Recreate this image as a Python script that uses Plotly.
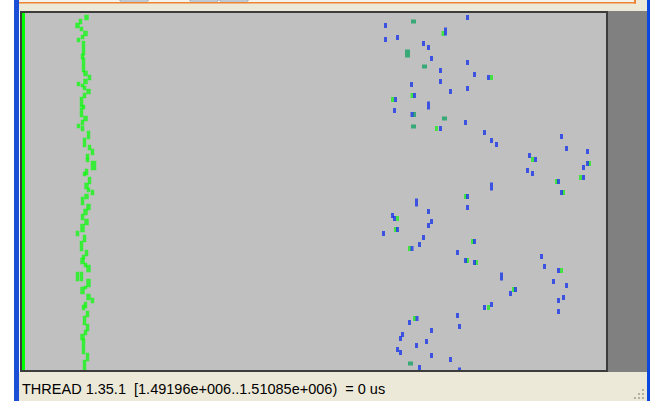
import plotly.graph_objects as go

# ---------------- data (event positions) ----------------
# main green activity trace of the thread (x position, y start, y end, width)
chain_x  = [86, 80, 77, 81, 85, 82, 78, 83, 82, 83, 85, 89, 85, 78, 82, 84, 88, 84, 81, 83,
            81, 85, 82, 78, 82, 88, 84, 89, 92, 87, 87, 93, 86, 84, 89, 86, 88, 92, 86, 82,
            88, 85, 82, 86, 82, 77, 84, 81, 86, 83, 82, 85, 88, 77, 81, 88, 85, 82, 88, 92,
            85, 83, 87, 84, 87, 85, 82, 83, 87, 84]
chain_y0 = [15, 19, 23, 27, 31, 35, 38, 41, 54, 58, 71, 75, 79, 82, 84, 86, 89, 93, 97, 105,
            108, 116, 120, 124, 126, 131, 138, 145, 149, 154, 158, 161, 169, 172, 177, 183, 188, 190, 194, 197,
            204, 209, 214, 219, 224, 231, 235, 241, 250, 255, 258, 263, 265, 272, 272, 279, 286, 287, 294, 298,
            302, 305, 311, 316, 324, 330, 334, 339, 353, 360]
chain_y1 = [19, 23, 27, 30, 35, 38, 41, 54, 58, 71, 75, 79, 83, 85, 86, 89, 93, 97, 106, 108,
            116, 120, 124, 127, 130, 138, 146, 149, 154, 158, 161, 169, 174, 175, 183, 188, 191, 194, 198, 204,
            209, 214, 219, 224, 231, 235, 241, 250, 255, 258, 263, 266, 271, 280, 280, 286, 288, 293, 299, 302,
            307, 309, 316, 324, 330, 334, 339, 353, 360, 370]
chain_w  = [4, 3, 4, 3, 4, 3, 3, 3, 3, 3, 4, 3, 4, 3, 3, 3, 4, 3, 3, 3,
            3, 4, 3, 3, 3, 3, 3, 3, 3, 3, 3, 5, 3, 3, 3, 4, 3, 3, 4, 3,
            4, 4, 3, 4, 4, 3, 3, 3, 3, 3, 4, 3, 4, 3, 3, 4, 3, 4, 4, 3,
            3, 3, 3, 3, 3, 3, 4, 3, 3, 3]

# blue events (x, y, height)
blue_x = [467, 385, 445, 385, 397, 423, 428, 431, 467, 440, 474, 488, 411, 440, 467, 450, 395, 414,
          428, 394, 411.5, 465, 440, 484, 491, 496, 491, 467, 416, 467, 428, 392, 394, 431, 428, 397,
          383, 423, 474, 419, 411.5, 457, 465, 474, 501, 510, 484, 491, 416.5, 457, 409, 459, 431,
          402, 400, 426, 416, 397, 400, 431, 450, 419, 459,
          561, 566, 529, 535, 587, 587, 583, 527, 532, 558, 583, 561, 541, 544, 558, 553, 566, 515,
          563, 558, 558]
blue_y = [17, 25, 31, 39, 37, 43, 47, 58, 62, 70, 74, 77, 84, 81, 88, 91, 99, 95,
          105, 110, 114, 122, 128, 132, 140, 144, 186, 196, 202, 207, 211, 215, 218, 221, 225, 229,
          233, 237, 241, 244, 248, 252, 260, 262, 276, 293, 307, 304, 318, 315, 322, 326, 330,
          334, 338, 341, 345, 349, 352, 355, 359, 367, 369,
          136, 148, 155, 159, 151, 163, 167, 170, 173, 181, 177, 192, 256, 266, 270, 281, 285, 289,
          297, 300, 311]
blue_h = [5, 5, 8, 5, 5, 5, 5, 5, 5, 5, 5, 5, 5, 5, 5, 5, 5, 5,
          8, 5, 5, 5, 5, 5, 5, 5, 8, 5, 8, 5, 5, 5, 5, 5, 5, 5,
          5, 5, 5, 5, 5, 5, 5, 5, 8, 5, 5, 5, 5, 5, 5, 5, 5,
          5, 5, 5, 5, 5, 5, 5, 5, 5, 4,
          5, 5, 5, 5, 5, 5, 5, 5, 5, 5, 5, 5, 5, 5, 5, 5, 5, 5,
          5, 5, 5]

# dark green standalone events (x, y, width, height)
dgreen_x = [413, 407, 424, 444, 413, 410, 414]
dgreen_y = [21, 53, 66, 118, 126, 363, 114]
dgreen_w = [5, 5, 5, 5, 5, 5, 3]
dgreen_h = [4, 8, 4, 4, 4, 4, 5]

# bright green events next to blue ones (x, y)
bgreen_x = [442.5, 491, 392, 411.5, 436, 465, 397, 395, 472, 409, 467, 476, 488, 414,
            532, 589, 556, 580, 563, 561, 513]
bgreen_y = [33, 77, 99, 95, 128, 196, 218, 229, 241, 248, 260, 262, 307, 318,
            159, 163, 181, 177, 192, 270, 289]

status_text = "THREAD 1.35.1  [1.49196e+006..1.51085e+006)  = 0 us"

# ---------------- figure ----------------
W, H = 650, 401
PX0, PX1, PY0, PY1 = 22, 606, 13, 370  # plot area in window pixels


def px(x):
    return x / W


def py(y):
    return 1 - y / H


def vbar_trace(xs, ys, hs, ws, color):
    return go.Scatter(
        x=xs, y=ys, mode="markers", hoverinfo="skip", showlegend=False,
        marker=dict(symbol="line-ns-open", size=[h / 1.4 for h in hs], color=color,
                    line=dict(width=ws, color=color)),
    )


fig = go.Figure()

chain_mid = [(a + b) / 2 for a, b in zip(chain_y0, chain_y1)]
chain_len = [b - a + 1.5 for a, b in zip(chain_y0, chain_y1)]
fig.add_trace(vbar_trace(chain_x, chain_mid, chain_len, [w + 0.5 for w in chain_w], "#00ff00"))
fig.add_trace(vbar_trace(dgreen_x, dgreen_y, dgreen_h, dgreen_w, "#00a05a"))
fig.add_trace(vbar_trace(bgreen_x, bgreen_y, [5] * len(bgreen_x), [3] * len(bgreen_x), "#10f010"))
fig.add_trace(vbar_trace(blue_x, blue_y, blue_h, [3] * len(blue_x), "#0424f0"))

shapes = []


def rect(x0, y0, x1, y1, fill, layer="above", line=None):
    d = dict(type="rect", xref="paper", yref="paper", x0=px(x0), x1=px(x1), y0=py(y1), y1=py(y0),
             fillcolor=fill, layer=layer, line=dict(width=0))
    if line:
        d["line"] = line
    shapes.append(d)


# chrome
rect(19, 0, 647, 11, "#ece9d8")            # top cream strip
rect(14, 0, 636, 2, "#f4f2ea")             # toolbar remnant
rect(14, 2, 636, 3.5, "#ee8433")           # orange focus line
rect(634, 0, 636, 3.5, "#ee8433")
for bx0, bx1 in [(120, 148), (190, 218), (220, 248)]:
    shapes.append(dict(type="path", xref="paper", yref="paper",
                       path=f"M {px(bx0)},{py(-1)} L {px(bx0)},{py(1)} L {px(bx1)},{py(1)} L {px(bx1)},{py(-1)}",
                       line=dict(color="#8aa0bc", width=1), layer="above"))
rect(19, 372, 647, 401, "#ece9d8")         # status bar
rect(14, 0, 19, 401, "#1b4fd6")            # left blue window edge
rect(647, 0, 650, 401, "#0a48e0")          # right blue window edge
rect(608, 11, 647, 372, "#808080")         # dark gray side panel
rect(PX0, PY0, 25, PY1, "#00ff00", layer="below")  # green left strip
shapes.append(dict(type="rect", xref="paper", yref="paper", x0=px(21), x1=px(607), y0=py(371), y1=py(12),
                   line=dict(color="#3c3c3c", width=2), fillcolor="rgba(0,0,0,0)", layer="above"))
for gx, gy in [(643, 390), (643, 394), (639, 394), (643, 398), (639, 398), (635, 398)]:
    rect(gx - 1, gy - 1, gx + 1, gy + 1, "#b5b09c")

fig.update_layout(
    width=W, height=H,
    margin=dict(l=0, r=0, t=0, b=0),
    paper_bgcolor="#ffffff",
    plot_bgcolor="#c0c0c0",
    showlegend=False,
    shapes=shapes,
    xaxis=dict(domain=[px(PX0), px(PX1)], range=[PX0 - 0.5, PX1 - 0.5], visible=False,
               showgrid=False, zeroline=False),
    yaxis=dict(domain=[py(PY1), py(PY0)], range=[PY1 - 0.5, PY0 - 0.5], visible=False,
               showgrid=False, zeroline=False),
    annotations=[dict(
        text=status_text.replace("  ", "\u00a0\u00a0"), xref="paper", yref="paper",
        x=px(20), y=py(389), xanchor="left", yanchor="middle", showarrow=False,
        font=dict(family="Liberation Sans, Arial, sans-serif", size=14.5, color="#000000"),
    )],
)

fig.write_html(
    "out.html",
    config={"displayModeBar": False},
    post_script="document.body.style.margin='0';document.body.style.padding='0';document.body.style.overflow='hidden';",
)
